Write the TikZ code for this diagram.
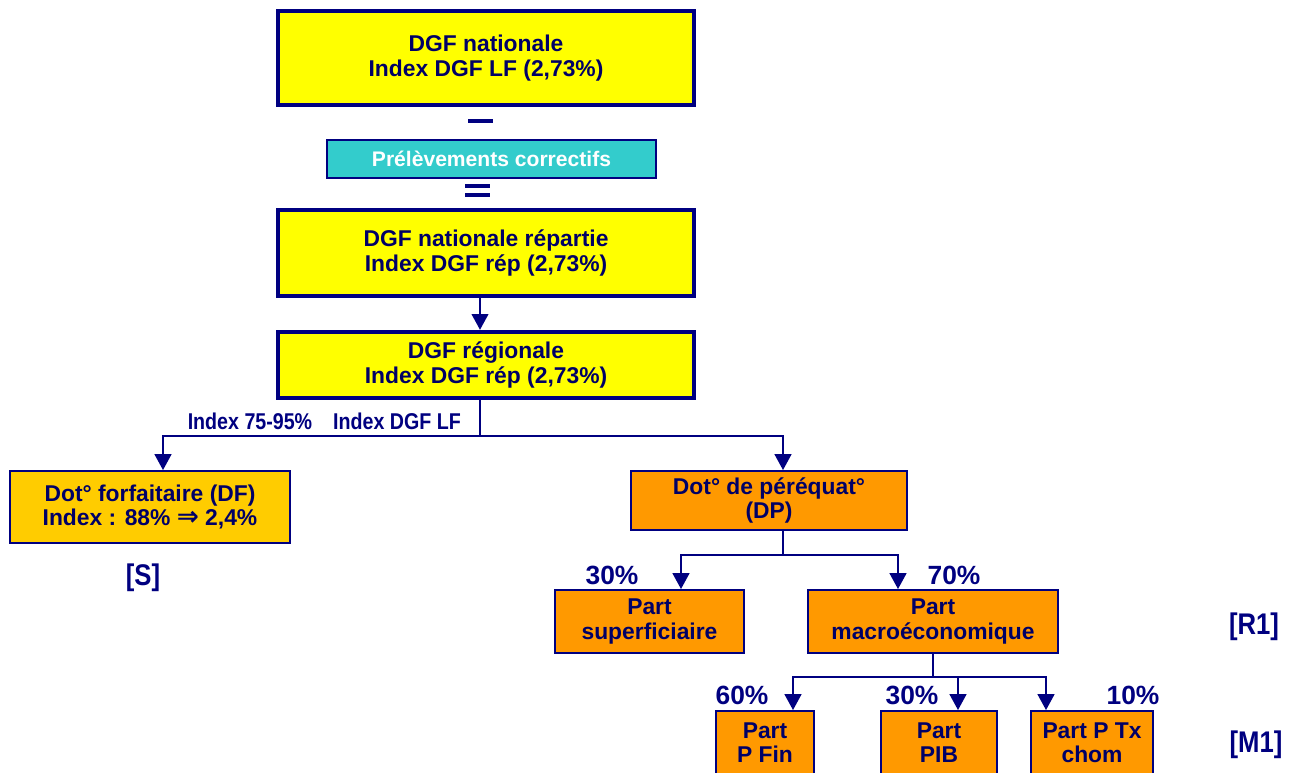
\documentclass[tikz,border=0pt]{standalone}
\usepackage{fontspec}
\setmainfont{Liberation Sans}
\newfontfamily\narrowfont[FakeStretch=0.86]{Liberation Sans}
\newfontfamily\symfont{DejaVu Sans}
\usepackage{tikz}
\usetikzlibrary{arrows.meta, calc}
\definecolor{navy}{RGB}{0,0,128}
\definecolor{txtnavy}{RGB}{0,0,102}
\definecolor{jaune}{RGB}{255,255,0}
\definecolor{turquoise}{RGB}{51,204,204}
\definecolor{or}{RGB}{255,204,0}
\definecolor{orange}{RGB}{255,153,0}

\begin{document}
\begin{tikzpicture}[
    x=0.02cm, y=-0.02cm,
    every node/.style={font=\bfseries\fontsize{13}{13.8}\selectfont, text=txtnavy, align=center},
    box/.style={draw=navy, line width=1.1pt, inner sep=1pt},
    bigbox/.style={box, fill=jaune, line width=2.5pt, minimum width=8.32cm},
    subbox/.style={box, fill=orange},
    pct/.style={font=\bfseries\fontsize{15}{17}\selectfont, text=navy},
    ref/.style={font=\narrowfont\bfseries\fontsize{17}{19}\selectfont, text=navy},
    idx/.style={font=\narrowfont\bfseries\fontsize{13}{15}\selectfont, text=navy},
    sign/.style={fill=navy, inner sep=0pt, minimum width=0.5cm, minimum height=0.08cm},
    line/.style={draw=navy, line width=1.1pt},
    arr/.style={line, -{Triangle[width=9.5pt,length=9pt]}},
]
    \useasboundingbox (0,0) rectangle (1301,772);
    \clip (0,0) rectangle (1301,772);

    % National level.
    \node[bigbox, minimum height=1.88cm] (dgfnat) at (486,58)
        {DGF nationale\\Index DGF LF (2,73\%)};
    \node[sign] (moins) at (480,121) {};
    \node[box, fill=turquoise, minimum width=6.58cm, minimum height=0.76cm,
          font=\bfseries\fontsize{12}{14}\selectfont, text=white] (prelev) at (491.5,159)
        {Prélèvements correctifs};
    \node[sign] (egal1) at (477,186) {};
    \node[sign] (egal2) at (477,195) {};
    \node[bigbox, minimum height=1.72cm] (dgfrep) at (486,253)
        {DGF nationale répartie\\Index DGF rép (2,73\%)};
    \node[bigbox, minimum height=1.32cm] (dgfreg) at (486,365)
        {DGF régionale\\Index DGF rép (2,73\%)};

    % Regional split.
    \node[idx] (idxdf) at (250,421) {Index 75-95\%};
    \node[idx] (idxdp) at (397,421) {Index DGF LF};
    \node[box, fill=or, minimum width=5.6cm, minimum height=1.44cm] (df) at (150,507)
        {Dot° forfaitaire (DF)\\Index : 88\% {\symfont\bfseries\fontsize{15}{13}\selectfont ⇒} 2,4\%};
    \node[ref] (refs) at (143,578) {[S]};
    \node[subbox, minimum width=5.52cm, minimum height=1.18cm] (dp) at (769,500.5)
        {Dot° de péréquat°\\(DP)};

    % Equalisation parts.
    \node[pct] (p30a) at (612,575) {30\%};
    \node[pct] (p70) at (954,575) {70\%};
    \node[subbox, minimum width=3.78cm, minimum height=1.26cm] (psup) at (649.5,621.5)
        {Part\\superficiaire};
    \node[subbox, minimum width=5.0cm, minimum height=1.26cm] (pmacro) at (933,621.5)
        {Part\\macroéconomique};
    \node[ref] (refr) at (1254,627) {[R1]};

    % Macroeconomic parts.
    \node[pct] (p60) at (742,695) {60\%};
    \node[pct] (p30b) at (912,695) {30\%};
    \node[pct] (p10) at (1133,695) {10\%};
    \node[subbox, minimum width=1.96cm, minimum height=1.28cm] (pfin) at (765,743)
        {Part\\P Fin};
    \node[subbox, minimum width=2.32cm, minimum height=1.28cm] (ppib) at (939,743)
        {Part\\PIB};
    \node[subbox, minimum width=2.44cm, minimum height=1.28cm] (ptx) at (1092,743)
        {Part P Tx\\chom};
    \node[ref] (refm) at (1256,745) {[M1]};

    % Connectors.
    \coordinate (jreg) at (480,436);
    \coordinate (jdp) at (783,555);
    \coordinate (jmac) at (933,677);
    \draw[arr] ([xshift=-0.12cm]dgfrep.south) -- ([xshift=-0.12cm]dgfreg.north);
    \draw[line] ([xshift=-0.12cm]dgfreg.south) -- (jreg);
    \draw[arr] (jreg) -| ([xshift=0.26cm]df.north);
    \draw[arr] (jreg) -| ([xshift=0.28cm]dp.north);
    \draw[line] ([xshift=0.28cm]dp.south) -- (jdp);
    \draw[arr] (jdp) -| ([xshift=0.63cm]psup.north);
    \draw[arr] (jdp) -| ([xshift=-0.7cm]pmacro.north);
    \draw[line] (pmacro.south) -- (jmac);
    \draw[arr] (jmac) -| ([xshift=0.56cm]pfin.north);
    \draw[arr] (jmac) -| ([xshift=0.38cm]ppib.north);
    \draw[arr] (jmac) -| ([xshift=-0.92cm]ptx.north);
\end{tikzpicture}
\end{document}
